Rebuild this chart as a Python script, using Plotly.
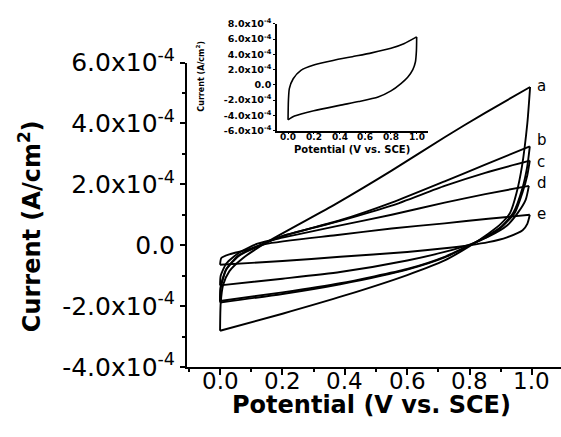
import plotly.graph_objects as go

# ---- main chart data (current in units of 1e-4 A/cm^2, potential in V vs. SCE) ----
a_up_x = [0.0, 0.002, 0.01, 0.03, 0.07, 0.15, 0.37, 0.55, 0.72, 0.85, 0.994]
a_up_y = [-2.81, -1.9, -1.3, -0.85, -0.45, 0.1, 1.35, 2.45, 3.55, 4.35, 5.2]
a_dn_x = [0.994, 0.985, 0.968, 0.95, 0.93, 0.9, 0.86, 0.8, 0.72, 0.6, 0.4, 0.2, 0.0]
a_dn_y = [5.2, 4.0, 2.6, 1.7, 1.07, 0.7, 0.38, -0.03, -0.5, -0.98, -1.65, -2.25, -2.81]

b_up_x = [0.0, 0.002, 0.02, 0.06, 0.12, 0.2, 0.385, 0.55, 0.72, 0.85, 0.993]
b_up_y = [-1.88, -1.4, -0.8, -0.35, -0.05, 0.3, 0.82, 1.4, 2.1, 2.65, 3.25]
b_dn_x = [0.993, 0.985, 0.97, 0.94, 0.9, 0.86, 0.8, 0.72, 0.6, 0.385, 0.2, 0.0]
b_dn_y = [3.25, 2.6, 1.9, 1.07, 0.6, 0.33, 0.0, -0.4, -0.8, -1.28, -1.6, -1.88]

c_up_x = [0.0, 0.002, 0.02, 0.06, 0.12, 0.2, 0.385, 0.55, 0.72, 0.85, 0.993]
c_up_y = [-1.83, -1.35, -0.78, -0.33, -0.03, 0.3, 0.8, 1.3, 1.95, 2.38, 2.78]
c_dn_x = [0.993, 0.985, 0.97, 0.945, 0.9, 0.86, 0.8, 0.72, 0.6, 0.385, 0.2, 0.0]
c_dn_y = [2.78, 2.3, 1.75, 1.07, 0.57, 0.3, 0.0, -0.38, -0.78, -1.25, -1.55, -1.83]

d_up_x = [0.0, 0.002, 0.02, 0.06, 0.12, 0.2, 0.37, 0.55, 0.72, 0.85, 0.99]
d_up_y = [-1.32, -1.0, -0.6, -0.25, 0.05, 0.25, 0.62, 1.0, 1.4, 1.68, 1.95]
d_dn_x = [0.99, 0.98, 0.955, 0.92, 0.86, 0.8, 0.72, 0.6, 0.385, 0.2, 0.0]
d_dn_y = [1.95, 1.5, 1.07, 0.65, 0.28, 0.02, -0.22, -0.5, -0.88, -1.1, -1.32]

e_up_x = [0.0, 0.004, 0.03, 0.08, 0.145, 0.37, 0.55, 0.72, 0.86, 0.993]
e_up_y = [-0.64, -0.42, -0.3, -0.17, 0.04, 0.33, 0.55, 0.72, 0.87, 1.0]
e_dn_x = [0.993, 0.985, 0.97, 0.92, 0.86, 0.8, 0.72, 0.6, 0.385, 0.2, 0.0]
e_dn_y = [1.0, 0.7, 0.49, 0.26, 0.1, 0.0, -0.1, -0.22, -0.38, -0.52, -0.64]

curve_labels = ["a", "b", "c", "d", "e"]
label_y = [5.24, 3.45, 2.74, 2.05, 1.01]

main_tickvals = [-4, -2, 0, 2, 4, 6]
main_ticktext = ["-4.0x10<sup>-4</sup>", "-2.0x10<sup>-4</sup>", "0.0",
                 "2.0x10<sup>-4</sup>", "4.0x10<sup>-4</sup>", "6.0x10<sup>-4</sup>"]
x_tickvals = [0.0, 0.2, 0.4, 0.6, 0.8, 1.0]
x_ticktext = ["0.0", "0.2", "0.4", "0.6", "0.8", "1.0"]

# ---- inset data ----
in_up_x = [0.0, 0.003, 0.01, 0.04, 0.1, 0.2, 0.35, 0.5, 0.65, 0.8, 0.9, 1.0]
in_up_y = [-4.6, -2.0, -0.5, 0.8, 1.9, 2.6, 3.2, 3.7, 4.2, 4.8, 5.4, 6.3]
in_dn_x = [1.0, 0.998, 0.99, 0.97, 0.93, 0.88, 0.8, 0.7, 0.55, 0.4, 0.2, 0.05, 0.0]
in_dn_y = [6.3, 4.5, 3.0, 2.0, 1.0, 0.2, -0.8, -1.6, -2.2, -2.7, -3.4, -4.1, -4.6]

inset_tickvals = [-6, -4, -2, 0, 2, 4, 6, 8]
inset_ticktext = ["-6.0x10<sup>-4</sup>", "-4.0x10<sup>-4</sup>", "-2.0x10<sup>-4</sup>", "0.0",
                  "2.0x10<sup>-4</sup>", "4.0x10<sup>-4</sup>", "6.0x10<sup>-4</sup>",
                  "8.0x10<sup>-4</sup>"]

fig = go.Figure()
line = dict(color="black", width=1.9, shape="spline", smoothing=0.6)
for xs, ys in [(a_up_x, a_up_y), (a_dn_x, a_dn_y), (b_up_x, b_up_y), (b_dn_x, b_dn_y),
               (c_up_x, c_up_y), (c_dn_x, c_dn_y), (d_up_x, d_up_y), (d_dn_x, d_dn_y),
               (e_up_x, e_up_y), (e_dn_x, e_dn_y)]:
    fig.add_trace(go.Scatter(x=xs, y=ys, mode="lines", line=line, showlegend=False,
                             hoverinfo="skip", xaxis="x", yaxis="y"))

for xs, ys in [(in_up_x, in_up_y), (in_dn_x, in_dn_y)]:
    fig.add_trace(go.Scatter(x=xs, y=ys, mode="lines",
                             line=dict(color="black", width=1.6, shape="spline", smoothing=0.6),
                             showlegend=False, hoverinfo="skip", xaxis="x2", yaxis="y2"))

FONT = "DejaVu Sans, Verdana, Arial, sans-serif"

fig.update_layout(
    width=561, height=437,
    margin=dict(l=187, r=0, t=15, b=70),
    paper_bgcolor="white", plot_bgcolor="white",
    font=dict(family=FONT, color="black"),
    xaxis=dict(domain=[0, 1], range=[-0.106, 1.093], showline=True, linecolor="black",
               linewidth=2, ticks="outside", ticklen=6, tickwidth=2, tickcolor="black",
               tickvals=x_tickvals, showticklabels=False, showgrid=False, zeroline=False,
               minor=dict(ticks="outside", ticklen=3, tickwidth=2, tickcolor="black",
                          dtick=0.1, tick0=0.1, showgrid=False)),
    yaxis=dict(domain=[0, 0.8722], range=[-4, 6], showline=True, linecolor="black",
               linewidth=2, ticks="outside", ticklen=5, tickwidth=2, tickcolor="black",
               tickvals=main_tickvals, ticktext=main_ticktext, showgrid=False, zeroline=False,
               tickfont=dict(size=25, family=FONT),
               minor=dict(ticks="outside", ticklen=3, tickwidth=2, tickcolor="black",
                          dtick=1, tick0=1, showgrid=False)),
    xaxis2=dict(domain=[0.2406, 0.6444], range=[-0.086, 1.088], anchor="y2",
                showline=True, linecolor="black", linewidth=1.6, ticks="outside",
                ticklen=2, tickwidth=1.2, tickcolor="black",
                tickvals=x_tickvals, showticklabels=False, showgrid=False, zeroline=False),
    yaxis2=dict(domain=[0.6776, 0.9830], range=[-6, 8], anchor="x2",
                showline=True, linecolor="black", linewidth=1.6, ticks="outside",
                ticklen=2, tickwidth=1.2, tickcolor="black",
                tickvals=inset_tickvals, ticktext=inset_ticktext, showgrid=False,
                zeroline=False, tickfont=dict(size=9.5, family=FONT, weight="bold")),
)

annotations = []
# main x-axis tick labels, placed at the tick values of the x axis
for tv, tt in zip(x_tickvals, x_ticktext):
    annotations.append(dict(x=tv, y=-0.0398, xref="x", yref="paper", text=tt,
                            showarrow=False, xanchor="center", yanchor="middle",
                            font=dict(size=23, family=FONT, color="black")))
# inset x-axis tick labels
for tv, tt in zip(x_tickvals, x_ticktext):
    annotations.append(dict(x=tv, y=0.659, xref="x2", yref="paper", text="<b>" + tt + "</b>",
                            showarrow=False, xanchor="center", yanchor="middle",
                            font=dict(size=9, family=FONT, color="black")))
for lab, ly in zip(curve_labels, label_y):
    annotations.append(dict(x=1.01, y=ly, xref="x", yref="y", text=lab, showarrow=False,
                            xanchor="left", yanchor="middle",
                            font=dict(size=15, family=FONT, color="black")))
annotations.append(dict(x=0.492, y=-0.108, xref="paper", yref="paper",
                        text="<b>Potential (V vs. SCE)</b>", showarrow=False,
                        xanchor="center", yanchor="middle",
                        font=dict(size=24, family=FONT, color="black")))
annotations.append(dict(x=-0.4198, y=0.4034, xref="paper", yref="paper",
                        text="<b>Current (A/cm<sup>2</sup>)</b>", showarrow=False, textangle=-90,
                        xanchor="center", yanchor="middle",
                        font=dict(size=24, family=FONT, color="black")))
annotations.append(dict(x=0.44, y=0.622, xref="paper", yref="paper",
                        text="<b>Potential (V vs. SCE)</b>", showarrow=False,
                        xanchor="center", yanchor="middle",
                        font=dict(size=10, family=FONT, color="black")))
annotations.append(dict(x=0.0348, y=0.832, xref="paper", yref="paper",
                        text="<b>Current (A/cm<sup>2</sup>)</b>", showarrow=False, textangle=-90,
                        xanchor="center", yanchor="middle",
                        font=dict(size=8, family=FONT, color="black")))
fig.update_layout(annotations=annotations)

fig.write_html("out.html", config={"displayModeBar": False},
               post_script="document.body.style.margin='0px';document.body.style.padding='0px';")
